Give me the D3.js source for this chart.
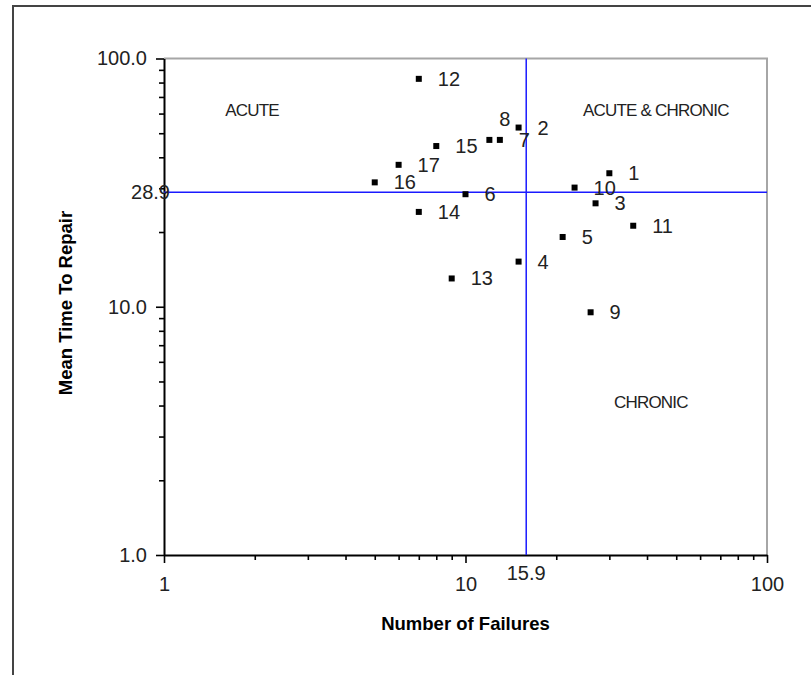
<!DOCTYPE html>
<html>
<head>
<meta charset="utf-8">
<script src="https://cdn.jsdelivr.net/npm/d3@7"></script>
<style>
  body { margin: 0; background: #fff; }
  svg { display: block; font-family: "Liberation Sans", Arial, sans-serif; }
</style>
</head>
<body>
<svg id="chart" width="811" height="675"></svg>
<script>
// equipment numbers, failure counts and mean time to repair
const ids      = [1, 2, 3, 4, 5, 6, 7, 8, 9, 10, 11, 12, 13, 14, 15, 16, 17];
const failures = [30, 15, 27, 15, 21, 10, 13, 12, 26, 23, 36, 7, 9, 7, 8, 5, 6];
const mttr     = [34.5, 52.7, 26.1, 15.2, 19.1, 28.4, 47, 47, 9.5, 30.2, 21.2, 82.8, 13.0, 24.1, 44.4, 31.7, 37.3];

// reference lines (averages)
const failLimit = 15.9;
const mttrLimit = 28.9;

const xMajor = [1, 10, 100];
const yMajor = [1, 10, 100];
const minorTicks = [2, 3, 4, 5, 6, 7, 8, 9, 20, 30, 40, 50, 60, 70, 80, 90];

const quadrants = [
  { text: "ACUTE", fx: 1.96, fy: 62 },
  { text: "ACUTE & CHRONIC", fx: 42.8, fy: 62 },
  { text: "CHRONIC", fx: 41.2, fy: 4.13 }
];

const svg = d3.select("#chart");
const pLeft = 164, pRight = 767, pTop = 58.5, pBottom = 555;

const x = d3.scaleLog().domain([1, 100]).range([pLeft, pRight]);
const y = d3.scaleLog().domain([1, 100]).range([pBottom, pTop]);

// page frame
svg.append("path")
  .attr("d", `M13,675 V6 H811`)
  .attr("fill", "none").attr("stroke", "#444").attr("stroke-width", 2);

// plot frame (top/right grey)
svg.append("path")
  .attr("d", `M${pLeft},${pTop} H${pRight} V${pBottom}`)
  .attr("fill", "none").attr("stroke", "#a6a6a6").attr("stroke-width", 2);

// minor ticks
svg.append("g").attr("transform", `translate(0,${pBottom})`)
  .call(d3.axisBottom(x).tickValues(minorTicks).tickSize(5).tickFormat(""))
  .call(g => g.select(".domain").remove());
svg.append("g").attr("transform", `translate(${pLeft},0)`)
  .call(d3.axisLeft(y).tickValues(minorTicks).tickSize(5).tickFormat(""))
  .call(g => g.select(".domain").remove());

// major axes
const xAxis = svg.append("g").attr("transform", `translate(0,${pBottom})`)
  .call(d3.axisBottom(x).tickValues(xMajor).tickSize(8).tickSizeOuter(0).tickPadding(14).tickFormat(d3.format("d")));
const yAxis = svg.append("g").attr("transform", `translate(${pLeft},0)`)
  .call(d3.axisLeft(y).tickValues(yMajor).tickSize(8).tickSizeOuter(0).tickPadding(9).tickFormat(d3.format(".1f")));

svg.selectAll(".tick line, .domain").attr("stroke", "#000").attr("stroke-width", 1.6);
svg.selectAll(".tick text").attr("fill", "#222").style("font-size", "20px");
xAxis.selectAll(".tick text").attr("dy", "0.71em");
xAxis.select(".domain").attr("stroke-width", 2);
yAxis.select(".domain").attr("stroke-width", 2);

// average lines
svg.append("line")
  .attr("x1", x(failLimit)).attr("x2", x(failLimit))
  .attr("y1", pTop).attr("y2", pBottom)
  .attr("stroke", "#1a1aff").attr("stroke-width", 1.5);
svg.append("line")
  .attr("x1", pLeft).attr("x2", pRight)
  .attr("y1", y(mttrLimit)).attr("y2", y(mttrLimit))
  .attr("stroke", "#1a1aff").attr("stroke-width", 1.5);

svg.append("text")
  .attr("x", x(failLimit)).attr("y", pBottom + 25)
  .attr("text-anchor", "middle")
  .style("font-size", "20px").attr("fill", "#222")
  .text(d3.format(".1f")(failLimit));
svg.append("text")
  .attr("x", pLeft + 6).attr("y", y(mttrLimit) + 7)
  .attr("text-anchor", "end")
  .style("font-size", "20px").attr("fill", "#222")
  .text(d3.format(".1f")(mttrLimit));

// quadrant names
svg.selectAll(".quad")
  .data(quadrants)
  .join("text")
  .attr("class", "quad")
  .attr("x", d => x(d.fx)).attr("y", d => y(d.fy) + 6)
  .attr("text-anchor", "middle")
  .style("font-size", "17px").style("letter-spacing", "-0.8px")
  .attr("fill", "#222")
  .text(d => d.text);

// points
const pts = ids.map((id, i) => ({ id: id, f: failures[i], m: mttr[i] }));

svg.append("g").selectAll("rect")
  .data(pts)
  .join("rect")
  .attr("x", d => x(d.f) - 3).attr("y", d => y(d.m) - 3)
  .attr("width", 6).attr("height", 6)
  .attr("fill", "#000");

svg.append("g").selectAll("text")
  .data(pts)
  .join("text")
  .attr("x", d => x(d.f) + (d.id === 8 ? 10 : 19))
  .attr("y", d => y(d.m) + (d.id === 8 ? -14 : 7))
  .style("font-size", "20px").attr("fill", "#222")
  .text(d => d.id);

// axis titles
svg.append("text")
  .attr("x", (pLeft + pRight) / 2).attr("y", 630)
  .attr("text-anchor", "middle")
  .style("font-size", "18.5px").style("font-weight", "bold")
  .text("Number of Failures");
svg.append("text")
  .attr("transform", `translate(72,303) rotate(-90)`)
  .attr("text-anchor", "middle")
  .style("font-size", "18.5px").style("font-weight", "bold")
  .text("Mean Time To Repair");
</script>
</body>
</html>
